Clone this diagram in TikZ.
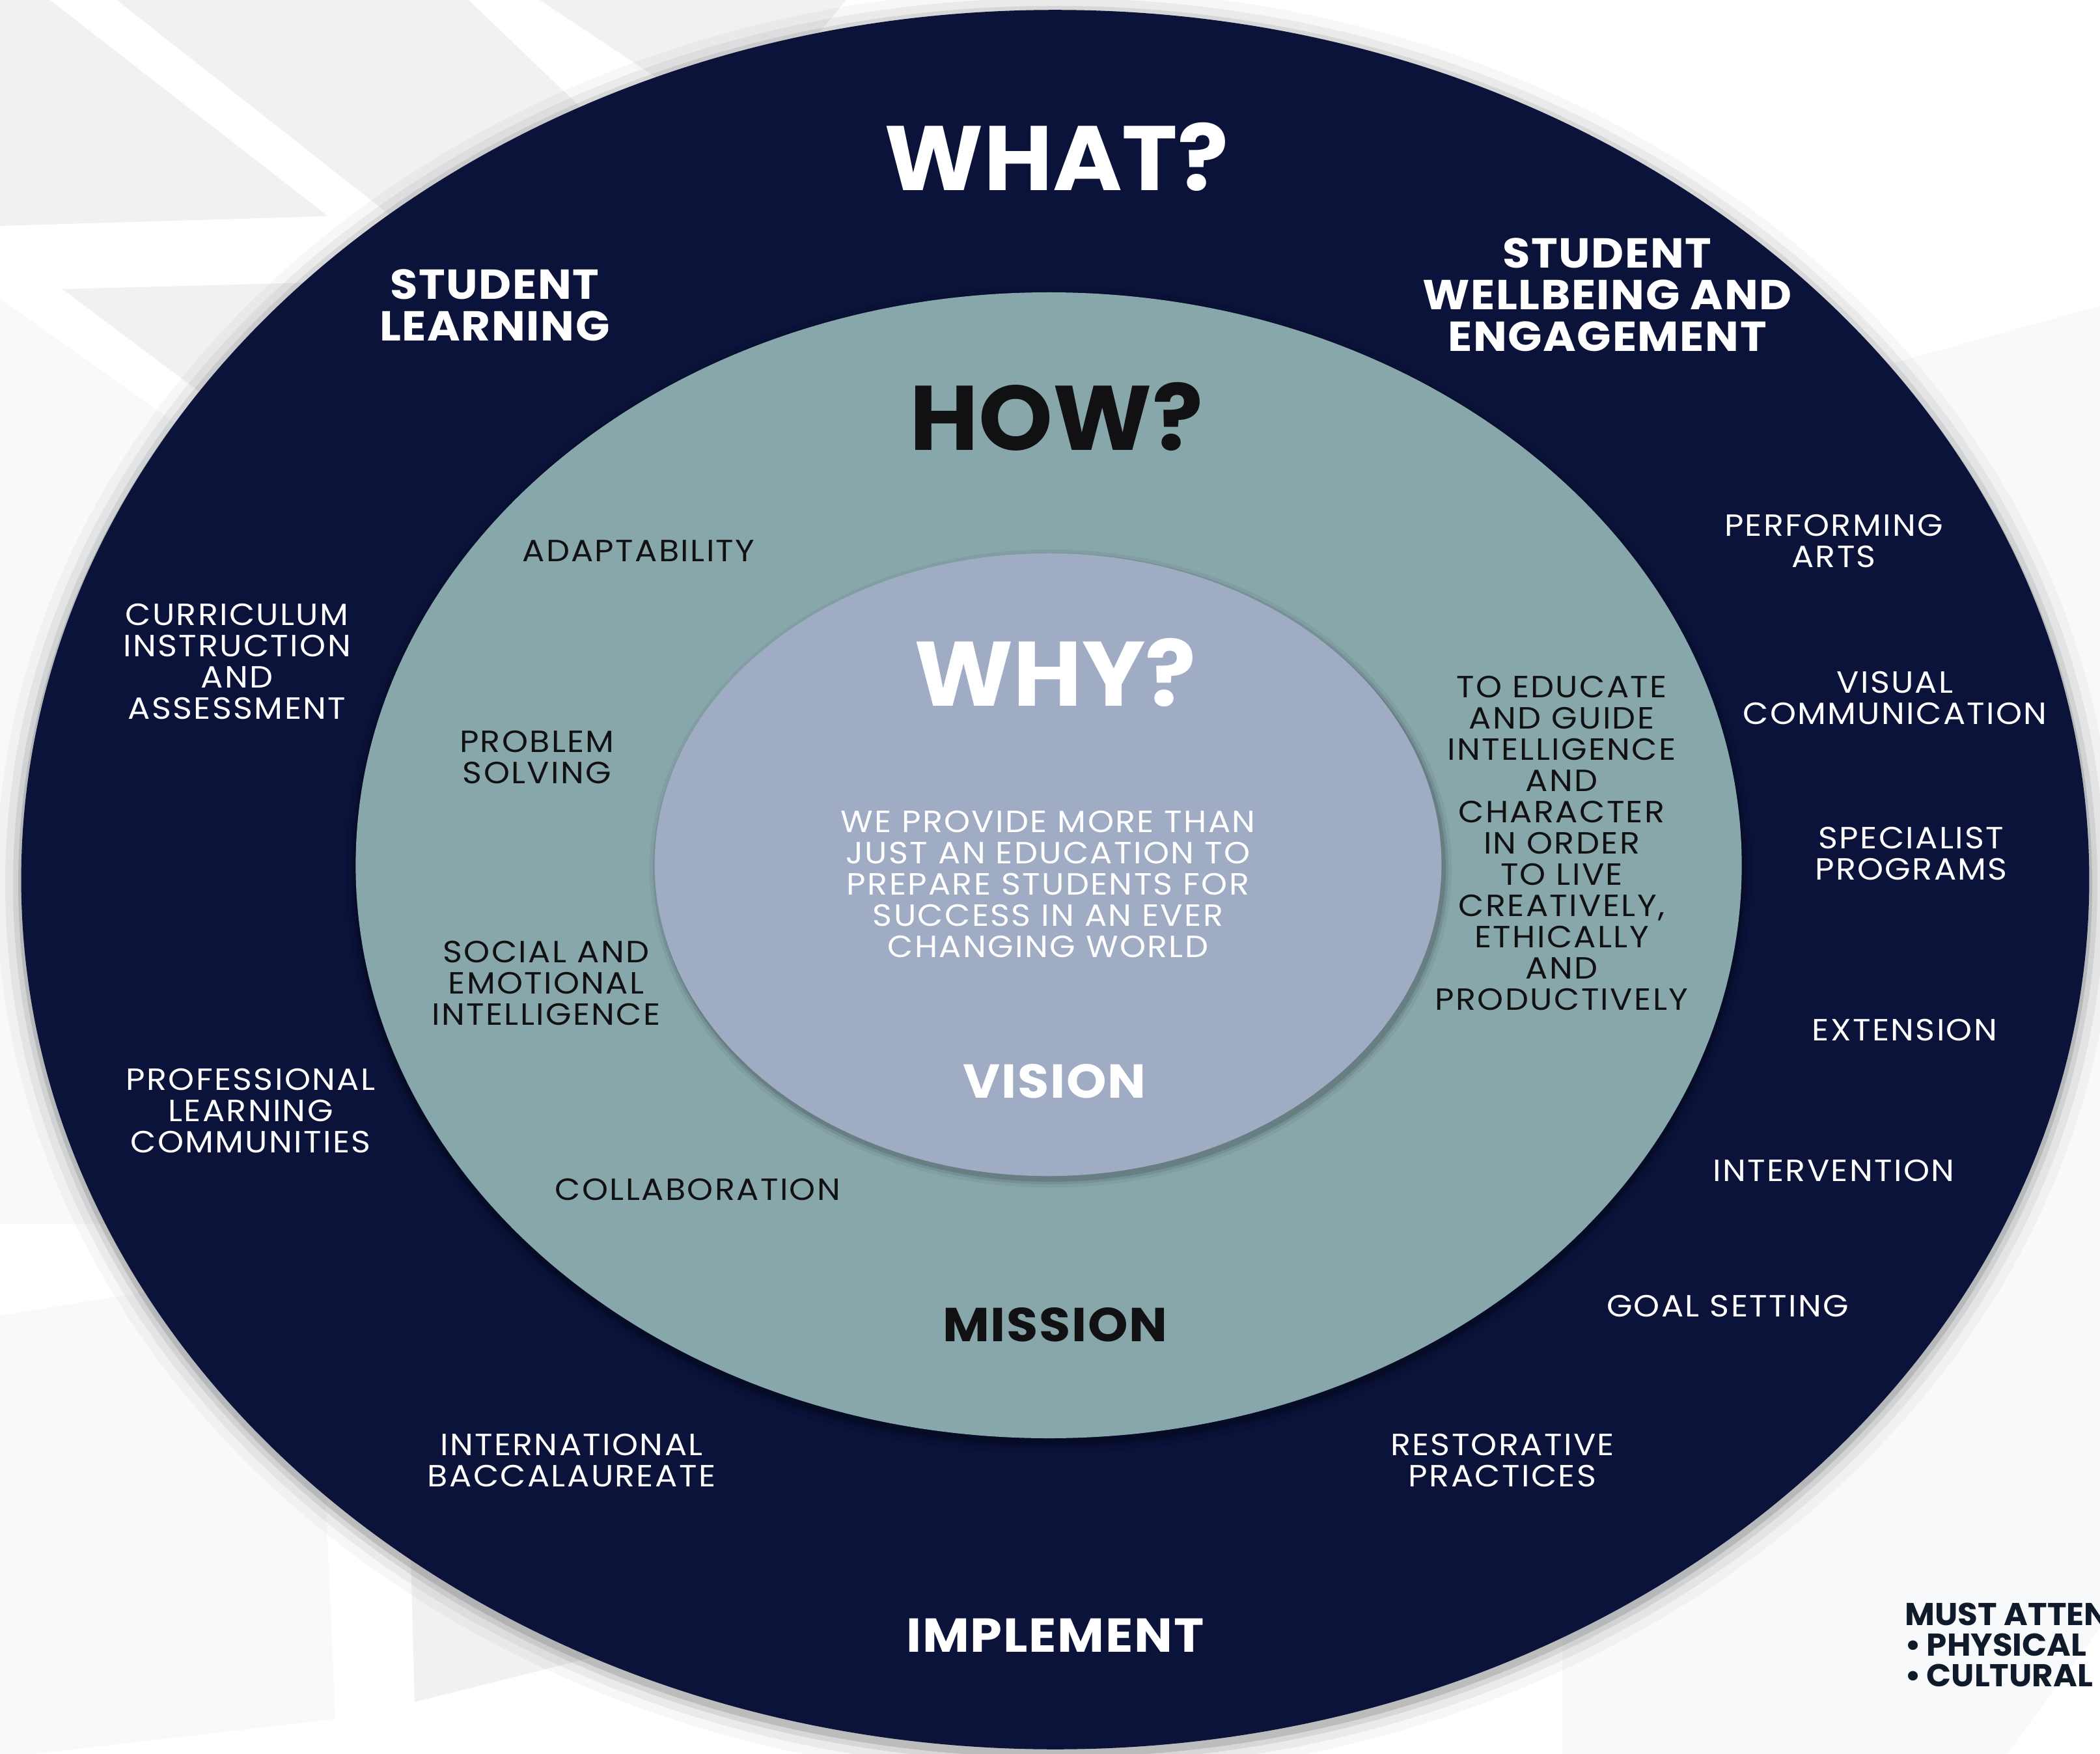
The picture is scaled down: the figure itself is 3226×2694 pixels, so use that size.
\documentclass[tikz,border=0pt]{standalone}
\usepackage{fontspec}
\setmainfont{Poppins}
\newfontfamily\fReg{Poppins}[FakeStretch=1.08, LetterSpace=5]
\newfontfamily\fHead{Poppins}[FakeStretch=1.07, LetterSpace=2.5]
\newfontfamily\fBig{Poppins}[FakeStretch=1.03]
\usetikzlibrary{shapes.geometric}
\definecolor{cnavy}{RGB}{11,19,58}
\definecolor{cmid}{RGB}{136,167,171}
\definecolor{cin}{RGB}{160,171,196}
\definecolor{cbgA}{RGB}{241,241,243}
\definecolor{cbgL}{RGB}{248,249,250}
\definecolor{cdark}{RGB}{15,27,43}
\definecolor{ctxt}{RGB}{17,17,20}
\tikzset{
  oval/.style={ellipse, inner sep=0pt, draw=none},
  lab/.style={align=center, inner sep=0pt, text=white, font=\fReg\fontsize{13.4}{13.66}\selectfont},
  labd/.style={lab, text=ctxt},
  head/.style={align=center, inner sep=0pt, text=white, font=\fHead\fontsize{18.3}{18.2}\selectfont\bfseries},
  big/.style={inner sep=0pt, font=\fBig\fontsize{40}{40}\selectfont\bfseries},
  word/.style={inner sep=0pt, font=\fHead\fontsize{20.8}{20.8}\selectfont\bfseries},
  note/.style={align=left, inner sep=0pt, text=cdark, font=\fBig\fontsize{13.8}{13.4}\selectfont\bfseries},
}
\begin{document}
\begin{tikzpicture}[x=0.01cm, y=-0.01cm]
\useasboundingbox (0,0) rectangle (3226,2694);
\clip (0,0) rectangle (3226,2694);
% background
\fill[white] (0,0) rectangle (3226,2694);
\fill[cbgA] (0,0) -- (1300,0) -- (800,600) -- (0,640) -- cycle;
\fill[white] (77,0) -- (179,0) -- (700,410) -- (340,700) -- (0,459) -- (0,347) -- (504,332) -- cycle;
\fill[cbgA] (96,444) -- (560,432) -- (400,672) -- cycle;
\fill[white] (720,0) -- (829,0) -- (1100,180) -- (960,230) -- cycle;
\fill[cbgL] (0,459) -- (340,700) -- (300,1880) -- (0,1880) -- cycle;
\fill[cbgL] (0,2021) -- (230,1983) -- (500,2290) -- (515,2640) -- (0,2700) -- cycle;
\fill[cbgA] (631,2390) -- (637,2614) -- (1000,2523) -- (900,2400) -- cycle;
\fill[cbgL] (2900,560) -- (3226,470) -- (3226,2500) -- (3083,2694) -- (2400,2694) -- (2400,1500) -- cycle;
% shadows
\foreach \s/\o in {40/0.03, 26/0.05, 14/0.08, 6/0.12}{
  \fill[black, opacity=\o] (1621,1358) ellipse ({1587+\s} and {1335+\s});
}
% outer
\node[oval, fill=cnavy, minimum width=31.75cm, minimum height=26.70cm] (outer) at (1621,1351) {};
% middle shadow + middle
\foreach \s/\o in {16/0.06, 9/0.10, 4/0.16}{
  \fill[black, opacity=\o] (1611,1336) ellipse ({1064+\s} and {880+\s});
}
\node[oval, fill=cmid, minimum width=21.28cm, minimum height=17.59cm] (mid) at (1611,1329) {};
% inner shadow + inner
\foreach \s/\o in {12/0.05, 7/0.08, 3/0.12}{
  \fill[black, opacity=\o] (1614,1334) ellipse ({604+\s} and {478+\s});
}
\node[oval, fill=cin, minimum width=12.08cm, minimum height=9.56cm] (inner) at (1610,1328) {};

% outer ring texts
\node[big, text=white] (what) at (1623,241) {WHAT?};
\node[head] (sl) at (760,469) {STUDENT\\LEARNING};
\node[head] (swe) at (2469,453) {STUDENT\\WELLBEING AND\\ENGAGEMENT};
\node[lab] (cia) at (364,1016) {CURRICULUM\\INSTRUCTION\\AND\\ASSESSMENT};
\node[lab] (plc) at (385,1706) {PROFESSIONAL\\LEARNING\\COMMUNITIES};
\node[lab] (ib) at (878,2243) {INTERNATIONAL\\BACCALAUREATE};
\node[lab] (rp) at (2308,2243) {RESTORATIVE\\PRACTICES};
\node[lab] (pa) at (2817,831) {PERFORMING\\ARTS};
\node[lab] (vc) at (2911,1072) {VISUAL\\COMMUNICATION};
\node[lab] (sp) at (2936,1311) {SPECIALIST\\PROGRAMS};
\node[lab] (ext) at (2926,1582) {EXTENSION};
\node[lab] (int) at (2817,1798) {INTERVENTION};
\node[lab] (gs) at (2654,2006) {GOAL SETTING};
\node[word, text=white] (impl) at (1621,2512) {IMPLEMENT};

% middle ring texts
\node[big, text=ctxt] (how) at (1623,640) {HOW?};
\node[labd] (adapt) at (981,846) {ADAPTABILITY};
\node[labd] (ps) at (825,1163) {PROBLEM\\SOLVING};
\node[labd] (sei) at (839,1510) {SOCIAL AND\\EMOTIONAL\\INTELLIGENCE};
\node[labd] (collab) at (1072,1827) {COLLABORATION};
\node[labd] (edu) at (2399,1295) {TO EDUCATE\\AND GUIDE\\INTELLIGENCE\\AND\\CHARACTER\\IN ORDER\\TO LIVE\\CREATIVELY,\\ETHICALLY\\AND\\PRODUCTIVELY};
\node[word, text=ctxt] (mission) at (1621,2035) {MISSION};

% inner texts
\node[big, text=white] (why) at (1621,1033) {WHY?};
\node[lab] (wp) at (1610,1358) {WE PROVIDE MORE THAN\\JUST AN EDUCATION TO\\PREPARE STUDENTS FOR\\SUCCESS IN AN EVER\\CHANGING WORLD};
\node[word, text=white] (vision) at (1620,1661) {VISION};

% note at bottom right
\node[note, anchor=west] (must) at (2926,2526) {MUST ATTEN\\\textbullet\,PHYSICAL\\\textbullet\,CULTURAL};
\end{tikzpicture}
\end{document}
